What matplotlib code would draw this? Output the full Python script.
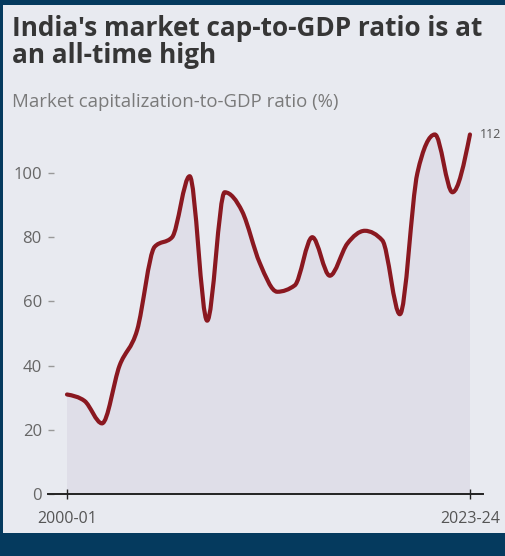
import numpy as np
import matplotlib
matplotlib.use("Agg")
import matplotlib.pyplot as plt
from matplotlib.path import Path
from matplotlib.patches import PathPatch, Rectangle

years = ["2000-01", "2001-02", "2002-03", "2003-04", "2004-05", "2005-06",
         "2006-07", "2007-08", "2008-09", "2009-10", "2010-11", "2011-12",
         "2012-13", "2013-14", "2014-15", "2015-16", "2016-17", "2017-18",
         "2018-19", "2019-20", "2020-21", "2021-22", "2022-23", "2023-24"]
ratio = [31, 29, 22, 40, 51, 77, 80, 99, 54, 94, 88, 72,
         63, 65, 80, 68, 78, 82, 79, 56, 100, 112, 94, 112]
yticks = [0, 20, 40, 60, 80, 100]
xtick_labels = [years[0], years[-1]]

NAVY = "#053a5e"
PANEL = "#e8eaf0"
FILL = "#dfdee8"
LINE = "#8a1820"

W, H = 505, 556
fig = plt.figure(figsize=(W / 100, H / 100), dpi=100, facecolor=NAVY)
fig.patches.append(Rectangle((3 / W, (H - 533) / H), 1, (533 - 5) / H,
                             transform=fig.transFigure, facecolor=PANEL,
                             edgecolor="none", zorder=-10))

fig.text(12 / W, 1 - 36 / H, "India's market cap-to-GDP ratio is at",
         fontfamily="Open Sans", fontweight="bold", fontsize=18.8,
         color="#363636", va="baseline", ha="left")
fig.text(12 / W, 1 - 63 / H, "an all-time high",
         fontfamily="Open Sans", fontweight="bold", fontsize=18.8,
         color="#363636", va="baseline", ha="left")
fig.text(12 / W, 1 - 107 / H, "Market capitalization-to-GDP ratio (%)",
         fontfamily="Open Sans", fontsize=13.4,
         color="#7a7a7a", va="baseline", ha="left")

ax_left, ax_right = 48, 483
y0_px, ymax = 494, 115
px_per = 3.21
top_px = y0_px - ymax * px_per
ax = fig.add_axes([ax_left / W, (H - y0_px) / H, (ax_right - ax_left) / W,
                   (y0_px - top_px) / H])
ax.set_facecolor("none")

x = np.arange(len(ratio), dtype=float)
y = np.array(ratio, dtype=float)
n = len(x)

# monotone cubic (d3 curveMonotoneX style) tangents
s = np.diff(y) / np.diff(x)
t = np.zeros(n)
for i in range(1, n - 1):
    s0, s1 = s[i - 1], s[i]
    p = (s0 + s1) / 2
    t[i] = (np.sign(s0) + np.sign(s1)) * min(abs(s0), abs(s1), 0.5 * abs(p))
t[0] = (3 * s[0] - t[1]) / 2
t[-1] = (3 * s[-1] - t[-2]) / 2

verts = [(x[0], y[0])]
codes = [Path.MOVETO]
for i in range(n - 1):
    dx = x[i + 1] - x[i]
    verts += [(x[i] + dx / 3, y[i] + dx * t[i] / 3),
              (x[i + 1] - dx / 3, y[i + 1] - dx * t[i + 1] / 3),
              (x[i + 1], y[i + 1])]
    codes += [Path.CURVE4] * 3
line_path = Path(verts, codes)
fill_path = Path(verts + [(x[-1], 0), (x[0], 0), (x[0], y[0])],
                 codes + [Path.LINETO, Path.LINETO, Path.CLOSEPOLY])

ax.add_patch(PathPatch(fill_path, facecolor=FILL, edgecolor="none", zorder=1))
ax.add_patch(PathPatch(line_path, facecolor="none", edgecolor=LINE, lw=3.0,
                       capstyle="round", joinstyle="round", zorder=3,
                       clip_on=False))

ax.annotate(str(ratio[-1]), xy=(x[-1], y[-1]), xytext=(7, 0),
            textcoords="offset points", va="center", ha="left",
            fontfamily="Open Sans", fontsize=9, color="#555555")

ax.set_xlim(-(67 - ax_left) / 17.52, (ax_right - 67) / 17.52)
ax.set_ylim(0, ymax)

for sp in ["left", "right", "top"]:
    ax.spines[sp].set_visible(False)
ax.spines["bottom"].set_color("#222222")
ax.spines["bottom"].set_linewidth(1.4)
ax.spines["bottom"].set_zorder(4)

ax.set_yticks(yticks)
ax.set_yticklabels([str(v) for v in yticks])
ax.tick_params(axis="y", direction="in", length=4, width=1, color="#999999",
               pad=4.5, labelsize=12, labelcolor="#666666")
ax.set_xticks([0, n - 1])
ax.set_xticklabels(xtick_labels)
ax.tick_params(axis="x", direction="inout", length=7, width=1,
               color="#222222", pad=9, labelsize=11.5, labelcolor="#555555")
for lab in ax.get_xticklabels() + ax.get_yticklabels():
    lab.set_fontfamily("Open Sans")

fig.savefig("out.png", dpi=100, facecolor=NAVY)
